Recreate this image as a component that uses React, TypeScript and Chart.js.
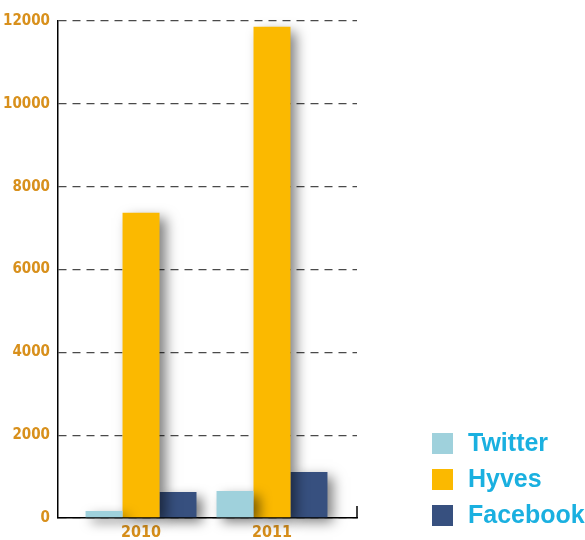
import React, { useEffect, useRef } from "react";
import { Chart, registerables } from "chart.js";

Chart.register(...registerables);

const years = [2010, 2011];
const seriesNames = ["Twitter", "Hyves", "Facebook"];
const twitter = [170, 650];
const hyves = [7370, 11860];
const facebook = [630, 1110];
const yTicks = [0, 2000, 4000, 6000, 8000, 10000, 12000];
const colors = ["#9fd1dc", "#fbb900", "#37507f"];

const tickColor = "#d8901c";
const tickFont = { family: "'DejaVu Sans Condensed', sans-serif", weight: "bold" as const, size: 15 };

const shadowPlugin = {
  id: "barShadow",
  beforeDatasetsDraw(chart: any) {
    const ctx = chart.ctx;
    ctx.save();
    ctx.shadowColor = "rgba(0,0,0,0.5)";
    ctx.shadowBlur = 12;
    ctx.shadowOffsetX = 6;
    ctx.shadowOffsetY = 5;
  },
  afterDatasetsDraw(chart: any) {
    chart.ctx.restore();
  },
};

const decorPlugin = {
  id: "decor",
  afterDraw(chart: any) {
    const ctx = chart.ctx;
    const { right, bottom } = chart.chartArea;
    ctx.save();
    ctx.strokeStyle = "#000";
    ctx.lineWidth = 1.5;
    ctx.beginPath();
    ctx.moveTo(right, bottom);
    ctx.lineTo(right, bottom - 12);
    ctx.stroke();
    // legend
    const x0 = 432;
    const y0 = 433;
    const gap = 36;
    chart.data.datasets.forEach((ds: any, i: number) => {
      const y = y0 + i * gap;
      ctx.fillStyle = ds.backgroundColor;
      ctx.fillRect(x0, y, 21, 21);
      ctx.fillStyle = "#1ab0e0";
      ctx.font = "bold 25px 'Liberation Sans', sans-serif";
      ctx.textBaseline = "middle";
      ctx.textAlign = "left";
      ctx.fillText(ds.label, x0 + 36, y + 11);
    });
    ctx.restore();
  },
};

export default function App() {
  const ref = useRef<HTMLCanvasElement | null>(null);
  useEffect(() => {
    document.body.style.margin = "0";
    const series = [twitter, hyves, facebook];
    const chart = new Chart(ref.current as HTMLCanvasElement, {
      type: "bar",
      data: {
        datasets: seriesNames.map((name, i) => ({
          label: name,
          data: years.map((yr, j) => ({ x: yr, y: series[i][j] })),
          backgroundColor: colors[i],
          borderWidth: 0,
          clip: false as any,
        })),
      },
      options: {
        animation: false,
        responsive: false,
        devicePixelRatio: 1,
        categoryPercentage: 0.847,
        barPercentage: 1,
        layout: { padding: { top: 21, right: 228, left: 0, bottom: 0 } },
        plugins: { legend: { display: false }, tooltip: { enabled: false } },
        scales: {
          x: {
            type: "linear",
            min: 2009.366,
            max: 2011.649,
            offset: false,
            z: 1,
            grid: { display: false, drawTicks: false },
            border: { color: "#000", width: 1.5 },
            afterBuildTicks: (scale: any) => {
              scale.ticks = years.map((v) => ({ value: v }));
            },
            afterFit: (scale: any) => {
              scale.height = 22;
            },
            ticks: {
              color: tickColor,
              font: { ...tickFont, size: 16 },
              padding: 5,
              maxRotation: 0,
              autoSkip: false,
              callback: (v: any) => String(v),
            },
          },
          y: {
            min: 0,
            max: 12000,
            afterBuildTicks: (scale: any) => {
              scale.ticks = yTicks.map((v) => ({ value: v }));
            },
            afterFit: (scale: any) => {
              scale.width = 58;
            },
            grid: {
              color: "#4a4a4a",
              lineWidth: 1.3,
              drawTicks: false,
            },
            border: { color: "#000", width: 1.5, dash: [8, 6] as any },
            ticks: {
              color: tickColor,
              font: tickFont,
              padding: 8,
              callback: (v: any) => String(v),
            },
          },
        },
      } as any,
      plugins: [shadowPlugin, decorPlugin],
    });
    return () => chart.destroy();
  }, []);
  return <canvas ref={ref} width={585} height={540} style={{ display: "block" }} />;
}
